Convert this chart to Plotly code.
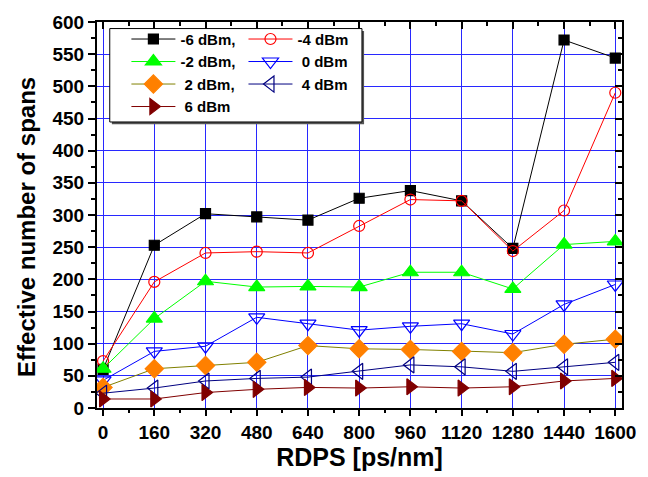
import plotly.graph_objects as go

rdps = [0, 160, 320, 480, 640, 800, 960, 1120, 1280, 1440, 1600]

p_m6 = [60, 253, 302, 297, 292, 326, 338, 322, 248, 572, 544]
p_m4 = [73, 196, 241, 243, 241, 283, 324, 322, 244, 307, 490]
p_m2 = [61, 139, 197, 188, 189, 188, 211, 211, 185, 254, 259]
p_0 = [43, 88, 96, 141, 131, 121, 127, 131, 115, 161, 192]
p_2 = [32, 61, 66, 71, 97, 92, 91, 88, 86, 99, 107]
p_4 = [23, 31, 42, 46, 48, 57, 67, 64, 57, 64, 71]
p_6 = [14, 14, 24, 29, 32, 31, 33, 31, 33, 42, 46]

NB = "\u00a0"
series = [
    ("-6 dBm,", p_m6, "square", "black", "black", 10, "legend"),
    ("-4 dBm", p_m4, "circle-open", "red", "red", 11, "legend2"),
    ("-2 dBm,", p_m2, "triangle-up", "#00ff00", "#00ff00", 14, "legend"),
    (NB + "0 dBm", p_0, "triangle-down-open", "#0000ff", "#0000ff", 14, "legend2"),
    (NB + "2 dBm,", p_2, "diamond", "#ff8000", "#808000", 14, "legend"),
    (NB + "4 dBm", p_4, "triangle-left-open", "#000080", "#000080", 14, "legend2"),
    (NB + "6 dBm", p_6, "triangle-right", "#800000", "#800000", 14, "legend"),
]

fig = go.Figure()
for name, vals, sym, mcol, lcol, msize, leg in series:
    fig.add_trace(go.Scatter(
        x=rdps, y=vals, name=name, mode="lines+markers",
        line=dict(color=lcol, width=1),
        marker=dict(symbol=sym, color=mcol, size=msize,
                    line=dict(color=mcol, width=1.2)),
        legend=leg,
    ))

FONT = "Liberation Sans, Arial, sans-serif"
xr = [-19, 1621]
yr = [0, 600]
xticks = rdps
yticks = list(range(0, 601, 50))

grid = "rgb(40,40,255)"
fig.update_layout(
    width=648, height=477,
    margin=dict(l=97, r=16, t=15, b=69),
    paper_bgcolor="white", plot_bgcolor="white",
    font=dict(family=FONT, color="black"),
    xaxis=dict(range=xr, tickvals=xticks, ticktext=[str(v) for v in xticks],
               showgrid=True, gridcolor=grid, gridwidth=1.3,
               zeroline=False, showline=True, linecolor="black", linewidth=2,
               ticks="outside", ticklen=6, tickwidth=1.5, tickcolor="black",
               minor=dict(tickvals=[80 + 160 * i for i in range(10)], ticks="outside",
                          ticklen=3, tickwidth=1.5, tickcolor="black", showgrid=False),
               tickfont=dict(size=19, family=FONT, weight="bold"),
               title=dict(text="<b>RDPS [ps/nm]</b>", font=dict(size=25, family=FONT),
                          standoff=4)),
    yaxis=dict(range=yr, tickvals=yticks,
               showgrid=True, gridcolor=grid, gridwidth=1.3,
               zeroline=False, showline=True, linecolor="black", linewidth=2,
               ticks="outside", ticklen=7, tickwidth=1.5, tickcolor="black",
               minor=dict(tickvals=[25 + 50 * i for i in range(12)], ticks="outside",
                          ticklen=4, tickwidth=1.5, tickcolor="black", showgrid=False),
               tickfont=dict(size=19, family=FONT, weight="bold")),
    xaxis2=dict(range=xr, overlaying="x", side="top", tickvals=xticks,
                showticklabels=False, showgrid=False, zeroline=False,
                showline=True, linecolor="black", linewidth=2,
                ticks="inside", ticklen=7, tickwidth=1.5, tickcolor="black",
                minor=dict(tickvals=[80 + 160 * i for i in range(10)], ticks="inside",
                           ticklen=4, tickwidth=1.5, tickcolor="black", showgrid=False)),
    yaxis2=dict(range=yr, overlaying="y", side="right", tickvals=yticks,
                showticklabels=False, showgrid=False, zeroline=False,
                showline=True, linecolor="black", linewidth=2,
                ticks="inside", ticklen=7, tickwidth=1.5, tickcolor="black",
                minor=dict(tickvals=[25 + 50 * i for i in range(12)], ticks="inside",
                           ticklen=4, tickwidth=1.5, tickcolor="black", showgrid=False)),
    legend=dict(x=0.056, y=0.998, xanchor="left", yanchor="top",
                bgcolor="rgba(0,0,0,0)", borderwidth=0, itemwidth=44,
                font=dict(size=15, family=FONT, weight="bold"), tracegroupgap=0),
    legend2=dict(x=0.279, y=0.998, xanchor="left", yanchor="top",
                 bgcolor="rgba(0,0,0,0)", borderwidth=0, itemwidth=44,
                 font=dict(size=15, family=FONT, weight="bold"), tracegroupgap=0),
    showlegend=True,
)

fig.add_annotation(text="<b>Effective number of spans</b>", textangle=-90,
                   xref="paper", yref="paper", x=-72 / 535, y=0.47,
                   xanchor="center", yanchor="middle", showarrow=False,
                   font=dict(size=24, family=FONT, color="black"))

# invisible trace to anchor overlay axes
fig.add_trace(go.Scatter(x=[None], y=[None], xaxis="x2", yaxis="y2",
                         showlegend=False, hoverinfo="skip"))

# legend frame with shadow
fig.add_shape(type="rect", xref="paper", yref="paper",
              x0=0.0243 + 0.004, x1=0.5047 + 0.004, y0=0.741 - 0.006, y1=0.983 - 0.006,
              fillcolor="#555555", line=dict(width=0), layer="above")
fig.add_shape(type="rect", xref="paper", yref="paper",
              x0=0.0243, x1=0.5047, y0=0.741, y1=0.983,
              fillcolor="white", line=dict(color="black", width=1), layer="above")

fig.write_html("out.html")
